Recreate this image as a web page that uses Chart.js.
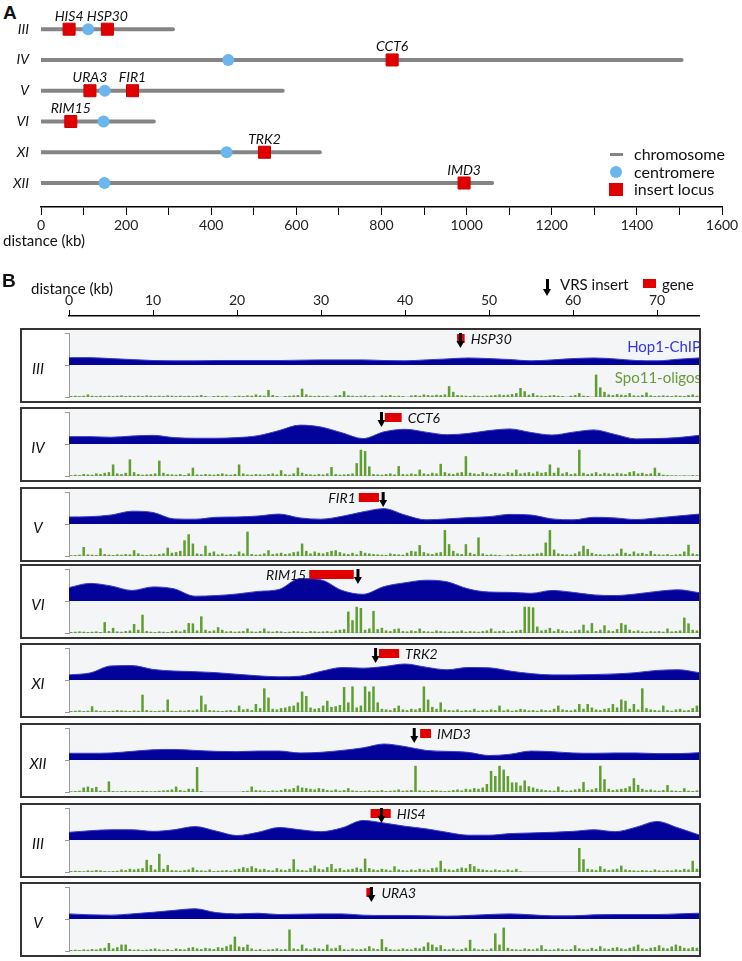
<!DOCTYPE html>
<html>
<head>
<meta charset="utf-8">
<script src="https://cdn.jsdelivr.net/npm/chart.js@4.4.0/dist/chart.umd.min.js"></script>
<style>
  body { margin: 0; background: #fff; font-family: Lato, "Open Sans", sans-serif; color: #111; }
  #page { position: relative; width: 742px; height: 961px; overflow: hidden; }
  .abs { position: absolute; }
  .panel { font-family: "Liberation Sans", Arial, sans-serif; font-weight: bold; font-size: 19px; }
  .txt { font-size: 15px; line-height: 18px; white-space: nowrap; }
  .leg { font-size: 16px; line-height: 18px; white-space: nowrap; }
  .track { position: absolute; left: 20px; width: 681px; height: 75px; box-sizing: border-box; border: 2px solid #353535; background: #fff; overflow: hidden; }
  .track canvas { position: absolute; left: 0; top: 0; }
  .chr { position: absolute; left: 0; width: 32px; text-align: center; top: 29px; font-style: italic; font-size: 15px; line-height: 18px; }
</style>
</head>
<body>
<div id="page">
  <div class="abs panel" style="left:3px;top:2px">A</div>
  <canvas id="chartA" class="abs" width="742" height="250" style="left:0;top:0"></canvas>
  <div class="abs txt" style="left:3px;top:231px">distance (kb)</div>

  <div class="abs" style="left:610px;top:153px;width:13px;height:3px;background:#858585"></div>
  <div class="abs leg" style="left:634px;top:145px">chromosome</div>
  <div class="abs" style="left:610px;top:166px;width:12px;height:12px;border-radius:50%;background:#6cb6ee"></div>
  <div class="abs leg" style="left:634px;top:163px">centromere</div>
  <div class="abs" style="left:609px;top:183px;width:14px;height:13px;background:#e00000"></div>
  <div class="abs leg" style="left:634px;top:180px">insert locus</div>

  <div class="abs panel" style="left:2px;top:270px">B</div>
  <div class="abs txt" style="left:31px;top:279px">distance (kb)</div>
  <canvas id="axisB" class="abs" width="742" height="35" style="left:0;top:285px"></canvas>
  <div class="abs" style="left:546px;top:279px;width:3px;height:11px;background:#000"></div>
  <div class="abs" style="left:543px;top:289px;width:0;height:0;border-left:4.5px solid transparent;border-right:4.5px solid transparent;border-top:7px solid #000"></div>
  <div class="abs txt" style="left:560px;top:275px">VRS insert</div>
  <div class="abs" style="left:643px;top:279px;width:13px;height:9px;background:#e00000"></div>
  <div class="abs txt" style="left:662px;top:275px">gene</div>
</div>

<script>
// ---- panel A: chromosome map ----
const chromNames = ['III', 'IV', 'V', 'VI', 'XI', 'XII'];
const chromLengths = [310, 1505, 568, 265, 655, 1060];
const centromeres = [111, 440, 150, 147, 436, 149];
const insertGenes = ['HIS4', 'HSP30', 'CCT6', 'URA3', 'FIR1', 'RIM15', 'TRK2', 'IMD3'];
const insertChrom = ['III', 'III', 'IV', 'V', 'V', 'VI', 'XI', 'XII'];
const insertPos = [66, 156, 825, 115, 215, 70, 525, 994];

// ---- panel B: tracks ----
const trackChrom = ['III', 'IV', 'V', 'VI', 'XI', 'XII', 'III', 'V'];
const trackGene = ['HSP30', 'CCT6', 'FIR1', 'RIM15', 'TRK2', 'IMD3', 'HIS4', 'URA3'];
const geneStart = [46.2, 37.6, 34.5, 28.6, 36.9, 41.8, 35.9, 35.4];
const geneEnd = [47.1, 39.6, 36.9, 33.9, 39.3, 43.1, 38.3, 36.0];
const insertKb = [46.6, 37.2, 37.4, 34.4, 36.5, 41.1, 37.2, 36.0];
const labelSide = ['right', 'right', 'left', 'left', 'right', 'right', 'right', 'right'];

// Hop1-ChIP signal, sampled every 2.5 kb
const hopKb = [0, 2.5, 5, 7.5, 10, 12.5, 15, 17.5, 20, 22.5, 25, 27.5, 30, 32.5, 35, 37.5, 40, 42.5, 45, 47.5, 50, 52.5, 55, 57.5, 60, 62.5, 65, 67.5, 70, 72.5, 75];
const hop1 = [23, 23, 20, 17, 14, 13, 13, 14, 14, 14, 14, 15, 16, 16, 16, 14, 13, 16, 19, 22, 20, 17, 13, 16, 20, 22, 19, 14, 13, 18, 22];
const hop2 = [23, 23, 21, 25, 27, 20, 18, 18, 20, 26, 42, 59, 53, 35, 17, 38, 46, 37, 29, 33, 42, 47, 36, 28, 37, 44, 30, 16, 17, 20, 27];
const hop3 = [22, 23, 28, 40, 36, 16, 15, 21, 22, 25, 31, 19, 15, 24, 38, 48, 28, 13, 16, 20, 23, 30, 28, 16, 13, 21, 19, 14, 19, 25, 31];
const hop4 = [42, 55, 47, 33, 44, 38, 15, 17, 22, 30, 36, 70, 66, 33, 21, 45, 57, 65, 60, 38, 28, 27, 24, 33, 27, 19, 17, 22, 30, 35, 26];
const hop5 = [16, 22, 44, 45, 33, 28, 26, 23, 18, 13, 10, 12, 27, 39, 37, 42, 50, 40, 32, 39, 38, 28, 20, 16, 16, 17, 19, 23, 30, 32, 23];
const hop6 = [21, 21, 22, 27, 32, 33, 30, 27, 26, 28, 28, 22, 24, 30, 38, 50, 42, 30, 27, 24, 14, 18, 28, 26, 22, 21, 22, 22, 20, 20, 23];
const hop7 = [24, 29, 32, 32, 27, 32, 42, 28, 14, 24, 39, 32, 26, 38, 61, 53, 43, 35, 24, 15, 15, 20, 22, 24, 27, 32, 26, 40, 58, 38, 16];
const hop8 = [16, 13, 12, 16, 21, 27, 32, 20, 16, 18, 14, 15, 16, 16, 12, 11, 11, 10, 9, 11, 14, 16, 13, 10, 10, 13, 14, 14, 14, 16, 18];

// Spo11-oligo counts, 0.5 kb bins (0-75 kb)
const spo1 = [
  3, 4, 3, 4, 8, 4, 3, 4, 3, 4,   3, 4, 5, 3, 4, 3, 4, 3, 5, 4,
  3, 4, 3, 5, 4, 3, 4, 3, 4, 3,   4, 6, 3, 0, 3, 4, 3, 4, 0, 3,
  4, 3, 5, 4, 8, 5, 4, 22, 6, 3,  0, 3, 4, 5, 6, 26, 8, 4, 3, 4,
  3, 4, 0, 5, 6, 18, 5, 4, 3, 4,  5, 3, 4, 0, 5, 4, 6, 3, 4, 3,
  0, 5, 6, 4, 8, 6, 5, 7, 6, 8,   34, 16, 6, 5, 4, 3, 5, 4, 3, 4,
  5, 6, 8, 6, 7, 9, 12, 28, 18, 7, 12, 5, 4, 3, 5, 6, 4, 3, 0, 4,
  6, 12, 4, 3, 0, 70, 30, 16, 8, 6, 9, 7, 6, 12, 5, 4, 6, 14, 5, 3,
  4, 5, 4, 3, 5, 4, 3, 6, 8, 4];
const spo2 = [
  2, 4, 3, 6, 5, 4, 8, 6, 10, 12,  36, 8, 6, 10, 52, 12, 6, 4, 5, 6,
  8, 48, 10, 6, 5, 4, 6, 3, 8, 26, 5, 4, 6, 5, 4, 6, 8, 5, 4, 6,
  36, 8, 5, 4, 6, 5, 4, 6, 8, 5,   18, 6, 4, 8, 26, 10, 6, 5, 4, 6,
  5, 8, 28, 6, 4, 5, 6, 8, 40, 82, 78, 30, 6, 5, 4, 6, 8, 5, 31, 6,
  5, 8, 6, 20, 8, 6, 10, 8, 38, 12, 8, 6, 10, 12, 62, 10, 8, 6, 12, 8,
  6, 10, 8, 6, 12, 10, 20, 8, 10, 12, 8, 14, 10, 12, 36, 10, 26, 8, 12, 6,
  8, 82, 10, 6, 8, 12, 6, 10, 8, 6, 10, 8, 6, 12, 15, 8, 10, 6, 8, 26,
  10, 4, 3, 2, 2, 1, 2, 1, 3, 2];
const spo3 = [
  2, 3, 4, 28, 5, 4, 3, 24, 6, 4,  3, 5, 4, 6, 5, 18, 8, 4, 3, 5,
  4, 6, 8, 26, 10, 12, 16, 49, 68, 39, 8, 6, 32, 10, 14, 5, 8, 4, 6, 5,
  14, 8, 76, 6, 4, 5, 8, 18, 6, 8, 10, 6, 8, 12, 14, 39, 16, 8, 14, 10,
  8, 12, 16, 18, 12, 8, 6, 10, 5, 16, 10, 8, 6, 5, 4, 3, 8, 6, 5, 4,
  10, 16, 14, 34, 12, 8, 6, 10, 12, 81, 37, 16, 8, 6, 37, 10, 6, 58, 8, 4,
  5, 4, 3, 0, 4, 5, 3, 6, 4, 5,    6, 8, 10, 42, 81, 20, 8, 6, 5, 4,
  8, 14, 32, 22, 10, 6, 5, 4, 6, 5, 8, 23, 10, 6, 14, 8, 10, 6, 16, 6,
  5, 4, 6, 3, 5, 6, 14, 35, 8, 6];
const spo4 = [
  3, 4, 5, 4, 3, 4, 5, 3, 34, 6,   16, 5, 4, 6, 8, 28, 10, 57, 6, 4,
  3, 5, 4, 3, 6, 8, 5, 10, 31, 30, 8, 52, 10, 6, 8, 18, 10, 5, 6, 4,
  5, 6, 14, 5, 4, 6, 14, 5, 4, 6,  5, 3, 4, 6, 5, 4, 3, 6, 5, 4,
  5, 6, 4, 8, 10, 12, 67, 40, 82, 78, 10, 14, 69, 12, 16, 8, 6, 12, 14, 6,
  5, 8, 6, 14, 6, 5, 4, 8, 6, 5,   4, 6, 5, 8, 4, 6, 5, 4, 6, 8,
  14, 5, 6, 8, 4, 6, 8, 10, 82, 82, 80, 20, 8, 10, 16, 6, 12, 8, 6, 5,
  8, 10, 26, 8, 31, 6, 10, 24, 8, 6, 12, 31, 26, 10, 6, 8, 5, 4, 6, 5,
  6, 4, 14, 5, 6, 8, 48, 30, 10, 8];
const spo5 = [
  3, 4, 5, 3, 4, 18, 5, 3, 4, 3,   4, 6, 5, 4, 3, 5, 4, 54, 6, 4,
  3, 4, 5, 39, 4, 3, 5, 4, 6, 5,   8, 51, 24, 6, 5, 4, 3, 5, 6, 4,
  20, 8, 10, 6, 25, 12, 74, 45, 10, 8, 12, 14, 18, 20, 30, 64, 50, 14, 10, 12,
  20, 35, 16, 18, 22, 78, 30, 80, 14, 20, 80, 64, 80, 30, 10, 8, 6, 12, 20, 8,
  6, 10, 8, 12, 80, 39, 16, 10, 30, 8, 6, 5, 8, 4, 6, 5, 10, 4, 6, 5,
  8, 6, 20, 5, 8, 4, 6, 10, 8, 5,  6, 4, 8, 6, 5, 10, 20, 8, 6, 5,
  8, 25, 10, 25, 14, 8, 6, 10, 12, 25, 14, 39, 35, 10, 25, 8, 74, 12, 8, 6,
  5, 20, 6, 4, 8, 10, 5, 6, 12, 20];
const spo6 = [
  2, 3, 4, 14, 17, 12, 16, 4, 3, 33, 3, 2, 3, 4, 3, 2, 3, 4, 3, 2,
  3, 4, 5, 6, 8, 17, 6, 4, 10, 10, 78, 3, 0, 0, 0, 0, 0, 0, 0, 0,
  0, 3, 4, 17, 6, 5, 4, 3, 5, 4,   6, 10, 8, 12, 20, 14, 12, 10, 8, 12,
  10, 6, 5, 8, 4, 6, 12, 5, 4, 3,  4, 5, 3, 4, 6, 3, 4, 5, 8, 4,
  5, 6, 82, 5, 4, 3, 6, 5, 4, 3,   4, 6, 8, 5, 10, 8, 12, 10, 14, 25,
  66, 50, 82, 70, 50, 30, 30, 20, 36, 18, 14, 10, 8, 6, 5, 4, 17, 6, 4, 5,
  8, 10, 31, 6, 8, 12, 82, 40, 10, 6, 8, 10, 12, 18, 43, 22, 10, 6, 8, 5,
  4, 6, 22, 5, 4, 3, 12, 4, 3, 5];
const spo7 = [
  3, 4, 3, 2, 5, 4, 6, 5, 3, 2,    3, 4, 8, 6, 10, 8, 10, 12, 38, 22,
  8, 57, 10, 22, 6, 5, 4, 6, 8, 14, 6, 5, 4, 8, 3, 4, 5, 6, 4, 8,
  10, 15, 12, 18, 12, 8, 10, 6, 5, 12, 8, 6, 10, 40, 8, 6, 5, 12, 20, 10,
  8, 15, 25, 10, 12, 6, 8, 10, 14, 10, 42, 12, 8, 6, 10, 8, 5, 18, 8, 6,
  5, 8, 6, 10, 8, 6, 12, 14, 35, 10, 8, 6, 10, 14, 12, 25, 18, 10, 8, 6,
  5, 8, 6, 4, 8, 5, 10, 2, 0, 0,   0, 0, 0, 0, 0, 0, 0, 0, 0, 0,
  0, 75, 40, 10, 8, 6, 18, 10, 6, 8, 10, 20, 8, 6, 5, 4, 6, 5, 4, 8,
  5, 4, 6, 5, 8, 6, 10, 8, 35, 10];
const spo8 = [
  3, 4, 3, 5, 4, 6, 5, 8, 10, 25,  8, 12, 20, 20, 6, 4, 5, 3, 4, 6,
  8, 5, 4, 6, 3, 8, 6, 5, 10, 12,  8, 6, 10, 8, 6, 12, 10, 15, 20, 45,
  14, 12, 20, 8, 4, 6, 3, 5, 6, 8, 5, 6, 67, 8, 6, 20, 8, 5, 10, 8,
  6, 20, 8, 10, 18, 6, 4, 8, 5, 6, 8, 15, 8, 6, 37, 12, 6, 4, 5, 8,
  6, 5, 10, 8, 14, 27, 20, 12, 18, 6, 5, 8, 4, 6, 10, 35, 8, 5, 6, 4,
  8, 55, 20, 73, 10, 6, 5, 4, 8, 6, 5, 8, 18, 6, 4, 5, 8, 6, 4, 6,
  18, 8, 6, 5, 10, 6, 15, 8, 6, 10, 12, 8, 6, 10, 14, 20, 8, 6, 10, 12,
  18, 10, 8, 14, 20, 16, 10, 8, 12, 10];

const hopTracks = [hop1, hop2, hop3, hop4, hop5, hop6, hop7, hop8];
const spoTracks = [spo1, spo2, spo3, spo4, spo5, spo6, spo7, spo8];
const spoKb = spo1.map((_, j) => j * 0.5 + 0.25);

Chart.defaults.font.family = 'Lato, "Open Sans", sans-serif';
Chart.defaults.color = '#111';

// chromosome names on the left and labels above the insert loci
const mapLabels = {
  id: 'mapLabels',
  afterDatasetsDraw(chart) {
    const { ctx, scales: { x, y } } = chart;
    ctx.save();
    ctx.fillStyle = '#111';
    ctx.textBaseline = 'middle';
    ctx.font = 'italic 14px Lato, "Open Sans", sans-serif';
    ctx.textAlign = 'right';
    chromNames.forEach((c, k) => ctx.fillText(c, 29, y.getPixelForValue(k + 1)));
    ctx.textAlign = 'center';
    insertGenes.forEach((g, k) => {
      const row = chromNames.indexOf(insertChrom[k]) + 1;
      ctx.fillText(g, x.getPixelForValue(insertPos[k]), y.getPixelForValue(row) - 13);
    });
    ctx.restore();
  }
};

new Chart(document.getElementById('chartA'), {
  type: 'scatter',
  data: {
    datasets: [
      {
        label: 'insert locus',
        data: insertPos.map((p, k) => ({ x: p, y: chromNames.indexOf(insertChrom[k]) + 1 })),
        pointStyle: 'rect',
        pointRadius: 8.5,
        backgroundColor: '#e00000',
        borderColor: '#c80000',
        borderWidth: 1,
        order: 1
      },
      {
        label: 'centromere',
        data: centromeres.map((c, k) => ({ x: c, y: k + 1 })),
        pointStyle: 'circle',
        pointRadius: 6,
        backgroundColor: '#6cb6ee',
        borderWidth: 0,
        order: 2
      },
      ...chromLengths.map((len, k) => ({
        type: 'line',
        label: 'chromosome',
        data: [{ x: 0, y: k + 1 }, { x: len, y: k + 1 }],
        borderColor: '#858585',
        borderWidth: 4,
        borderCapStyle: 'round',
        pointRadius: 0,
        order: 3
      }))
    ]
  },
  options: {
    responsive: false,
    animation: false,
    events: [],
    layout: { padding: { top: 3, right: 20, bottom: 13, left: 41 } },
    plugins: { legend: { display: false }, tooltip: { enabled: false } },
    scales: {
      x: {
        type: 'linear',
        min: 0,
        max: 1600,
        ticks: {
          stepSize: 100,
          autoSkip: false,
          maxRotation: 0,
          padding: 2,
          color: '#222',
          font: { size: 14 },
          callback: v => (v % 200 === 0 ? v : '')
        },
        grid: { drawOnChartArea: false, tickLength: 8, color: '#000' },
        border: { color: '#000', width: 1.5 },
        afterFit: s => { s.height = 30; }
      },
      y: { type: 'linear', reverse: true, min: 0.36, max: 6.78, display: false }
    }
  },
  plugins: [mapLabels]
});

// top distance axis of panel B
new Chart(document.getElementById('axisB'), {
  type: 'scatter',
  data: { datasets: [] },
  options: {
    responsive: false,
    animation: false,
    events: [],
    layout: { padding: { top: 1, right: 43, bottom: 0, left: 69 } },
    plugins: { legend: { display: false }, tooltip: { enabled: false } },
    scales: {
      x: {
        type: 'linear',
        position: 'top',
        min: 0,
        max: 75,
        ticks: { stepSize: 10, includeBounds: false, maxRotation: 0, padding: 1, color: '#222', font: { size: 14 } },
        grid: { drawOnChartArea: false, tickLength: 6, color: '#000' },
        border: { color: '#000', width: 1.5 },
        afterFit: s => { s.height = 30; }
      },
      y: { display: false }
    }
  }
});

function trackPlugin(i) {
  return {
    id: 'track' + i,
    beforeDraw(chart) {
      const { ctx, chartArea: a } = chart;
      ctx.save();
      ctx.fillStyle = '#f4f5f7';
      ctx.fillRect(a.left, 0, a.right - a.left, chart.height);
      ctx.fillStyle = '#d0d0d0';
      ctx.fillRect(a.left, a.bottom - 1, a.right - a.left, 1);
      ctx.restore();
    },
    afterDatasetsDraw(chart) {
      const { ctx, chartArea: a, scales: { x } } = chart;
      const t = a.top;
      const gs = x.getPixelForValue(geneStart[i]);
      const ge = x.getPixelForValue(geneEnd[i]);
      const ax = x.getPixelForValue(insertKb[i]);
      ctx.save();
      ctx.fillStyle = '#e00000';
      ctx.fillRect(gs, t + 1, Math.max(ge - gs, 3), 9);
      ctx.fillStyle = '#000';
      ctx.fillRect(ax - 1.5, t, 3, 9);
      ctx.beginPath();
      ctx.moveTo(ax - 4, t + 8);
      ctx.lineTo(ax + 4, t + 8);
      ctx.lineTo(ax, t + 15);
      ctx.closePath();
      ctx.fill();
      ctx.font = 'italic 14px Lato, "Open Sans", sans-serif';
      ctx.fillStyle = '#111';
      ctx.textBaseline = 'middle';
      if (labelSide[i] === 'right') {
        ctx.textAlign = 'left';
        ctx.fillText(trackGene[i], Math.max(ge, ax + 4) + 6, t + 6);
      } else {
        ctx.textAlign = 'right';
        ctx.fillText(trackGene[i], Math.min(gs, ax - 4) - 3, t + 6);
      }
      if (i === 0) {
        ctx.textAlign = 'right';
        ctx.font = '15px Lato, "Open Sans", sans-serif';
        ctx.fillStyle = '#3434e0';
        ctx.fillText('Hop1-ChIP', a.right + 2, t + 14);
        ctx.fillStyle = '#6a9a3a';
        ctx.fillText('Spo11-oligos', a.right + 2, t + 45);
      }
      ctx.restore();
    }
  };
}

const trackTops = [328, 407, 487, 564, 643, 723, 803, 882];
const page = document.getElementById('page');

trackChrom.forEach((chr, i) => {
  const box = document.createElement('div');
  box.className = 'track';
  box.style.top = trackTops[i] + 'px';
  const cv = document.createElement('canvas');
  cv.width = 677;
  cv.height = 71;
  box.appendChild(cv);
  const lab = document.createElement('div');
  lab.className = 'chr';
  lab.textContent = chr;
  box.appendChild(lab);
  page.appendChild(box);

  new Chart(cv, {
    type: 'bar',
    data: {
      datasets: [
        {
          type: 'line',
          label: 'Hop1-ChIP',
          data: hopKb.map((kb, j) => ({ x: kb, y: hopTracks[i][j] })),
          yAxisID: 'yHop',
          fill: 'origin',
          backgroundColor: '#03039a',
          borderColor: '#3a3ad0',
          borderWidth: 1,
          pointRadius: 0,
          cubicInterpolationMode: 'monotone'
        },
        {
          type: 'bar',
          label: 'Spo11-oligos',
          data: spoTracks[i].map((v, j) => ({ x: spoKb[j], y: v })),
          yAxisID: 'yGreen',
          backgroundColor: '#5e9f2f',
          barPercentage: 0.6,
          categoryPercentage: 1
        }
      ]
    },
    options: {
      responsive: false,
      animation: false,
      events: [],
      layout: { padding: { top: 3, right: 0, bottom: 4, left: 0 } },
      plugins: { legend: { display: false }, tooltip: { enabled: false } },
      scales: {
        x: { type: 'linear', min: 0, max: 75, offset: false, display: false },
        yHop: {
          position: 'left',
          min: -100,
          max: 100,
          afterBuildTicks: s => { s.ticks = [{ value: -100 }, { value: 0 }, { value: 100 }]; },
          ticks: { display: false },
          grid: { drawOnChartArea: false, tickLength: 4, color: '#9a9a9a' },
          border: { color: '#9a9a9a' },
          afterFit: s => { s.width = 47; }
        },
        yGreen: { position: 'left', min: 0, max: 200, display: false }
      }
    },
    plugins: [trackPlugin(i)]
  });
});
</script>
</body>
</html>
